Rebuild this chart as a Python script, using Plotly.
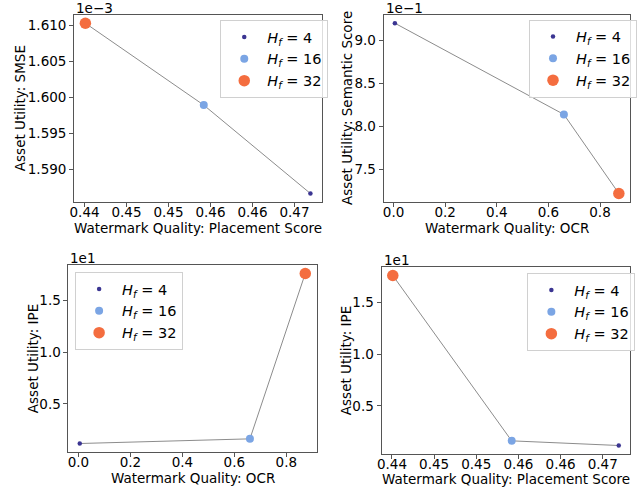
import plotly.graph_objects as go

# ---------------- data ----------------
H_LABELS = ["<i>H<sub>f</sub></i> = 4", "<i>H<sub>f</sub></i> = 16", "<i>H<sub>f</sub></i> = 32"]
COLORS = ["#3b3592", "#7ba5e4", "#f46d3f"]
SIZES = [4.5, 8, 11.5]

PLACEMENT = [0.4669, 0.4542, 0.4401]
OCR = [0.005, 0.660, 0.873]
SMSE = [1.5866e-3, 1.5989e-3, 1.6103e-3]
SEMANTIC = [0.9202, 0.8137, 0.7215]
IPE = [1.16, 1.61, 17.62]

PLACEMENT_TICKS = [0.440, 0.445, 0.450, 0.455, 0.460, 0.465]
PLACEMENT_TICK_LABELS = ["0.44", "0.45", "0.45", "0.46", "0.46", "0.47"]
OCR_TICKS = [0.0, 0.2, 0.4, 0.6, 0.8]
OCR_TICK_LABELS = ["0.0", "0.2", "0.4", "0.6", "0.8"]
SMSE_TICKS = [1.590e-3, 1.595e-3, 1.600e-3, 1.605e-3, 1.610e-3]
SMSE_TICK_LABELS = ["1.590", "1.595", "1.600", "1.605", "1.610"]
SEM_TICKS = [0.75, 0.80, 0.85, 0.90]
SEM_TICK_LABELS = ["7.5", "8.0", "8.5", "9.0"]
IPE_TICKS = [5, 10, 15]
IPE_TICK_LABELS = ["0.5", "1.0", "1.5"]

PANELS = [
    dict(x=PLACEMENT, y=SMSE, xt=PLACEMENT_TICKS, xl=PLACEMENT_TICK_LABELS, yt=SMSE_TICKS, yl=SMSE_TICK_LABELS,
         xtitle="Watermark Quality: Placement Score", ytitle="Asset Utility: SMSE", offset="1e\u22123",
         box=(70, 320.7, 14.7, 202), legend=(218, 20), xt_y=228.5, yt_x=16),
    dict(x=OCR, y=SEMANTIC, xt=OCR_TICKS, xl=OCR_TICK_LABELS, yt=SEM_TICKS, yl=SEM_TICK_LABELS,
         xtitle="Watermark Quality: OCR", ytitle="Asset Utility: Semantic Score", offset="1e\u22121",
         box=(383.5, 633, 14.7, 202), legend=(531, 19.5), xt_y=228.5, yt_x=347),
    dict(x=OCR, y=IPE, xt=OCR_TICKS, xl=OCR_TICK_LABELS, yt=IPE_TICKS, yl=IPE_TICK_LABELS,
         xtitle="Watermark Quality: OCR", ytitle="Asset Utility: IPE", offset="1e1",
         box=(64.3, 315.5, 265, 452), legend=(71, 272), xt_y=478, yt_x=28),
    dict(x=PLACEMENT, y=IPE, xt=PLACEMENT_TICKS, xl=PLACEMENT_TICK_LABELS, yt=IPE_TICKS, yl=IPE_TICK_LABELS,
         xtitle="Watermark Quality: Placement Score", ytitle="Asset Utility: IPE", offset="1e1",
         box=(381.3, 633, 267, 454), legend=(529, 273), xt_y=478.5, yt_x=345),
]

W, H = 637, 487
FONT = "DejaVu Sans"
FS = 13.5
TFS = 13.5


def padded(vals, frac=0.05):
    lo, hi = min(vals), max(vals)
    span = hi - lo
    return [lo - frac * span, hi + frac * span]


fig = go.Figure()
annotations = []
layout = {}
for i, p in enumerate(PANELS):
    n = "" if i == 0 else str(i + 1)
    xa, ya = "x" + n, "y" + n
    leg = "legend" + n
    fig.add_trace(go.Scatter(x=p["x"], y=p["y"], mode="lines", xaxis=xa, yaxis=ya,
                             line=dict(color="#8c8c8c", width=1), showlegend=False, hoverinfo="skip"))
    for k in range(3):
        fig.add_trace(go.Scatter(x=[p["x"][k]], y=[p["y"][k]], mode="markers", xaxis=xa, yaxis=ya,
                                 name=H_LABELS[k], legend=leg,
                                 marker=dict(color=COLORS[k], size=SIZES[k], line=dict(width=0))))
    x0, x1, y0, y1 = p["box"]
    common = dict(showgrid=False, zeroline=False, showline=True, mirror=True, linecolor="#555555",
                  linewidth=1, ticks="outside", ticklen=4, tickcolor="#555555",
                  tickfont=dict(family=FONT, size=TFS, color="black"))
    layout["xaxis" + n] = dict(domain=[x0 / W, x1 / W], anchor=ya, range=padded(p["x"]),
                               tickvals=p["xt"], ticktext=p["xl"], ticklabelstandoff=-6, **common)
    layout["yaxis" + n] = dict(domain=[1 - y1 / H, 1 - y0 / H], anchor=xa, range=padded(p["y"]),
                               tickvals=p["yt"], ticktext=p["yl"], **common)
    lx, ly = p["legend"]
    layout[leg] = dict(x=lx / W, y=1 - ly / H, xanchor="left", yanchor="top", xref="paper", yref="paper",
                       bgcolor="rgba(255,255,255,0.8)", bordercolor="#d0d0d0", borderwidth=1,
                       font=dict(family=FONT, size=14.5, color="black"), itemsizing="trace",
                       itemwidth=36, tracegroupgap=2)
    annotations.append(dict(text=p["offset"], x=x0 / W, y=1 - 7.5 / H - (y0 - 14.7) / H,
                            xref="paper", yref="paper",
                            xanchor="left", yanchor="middle", showarrow=False,
                            font=dict(family=FONT, size=FS, color="black")))
    annotations.append(dict(text=p["xtitle"], x=(x0 + x1) / 2 / W, y=1 - p["xt_y"] / H,
                            xref="paper", yref="paper", xanchor="center", yanchor="middle",
                            showarrow=False, font=dict(family=FONT, size=FS, color="black")))
    annotations.append(dict(text=p["ytitle"], x=p["yt_x"] / W, y=1 - (y0 + y1) / 2 / H,
                            xref="paper", yref="paper", xanchor="center", yanchor="middle", textangle=-90,
                            showarrow=False, font=dict(family=FONT, size=FS, color="black")))

fig.update_layout(width=W, height=H, margin=dict(l=0, r=0, t=0, b=0), paper_bgcolor="white",
                  plot_bgcolor="white", annotations=annotations, **layout)
fig.write_html("out.html", config={"displayModeBar": False},
               post_script="document.body.style.margin='0px';")
